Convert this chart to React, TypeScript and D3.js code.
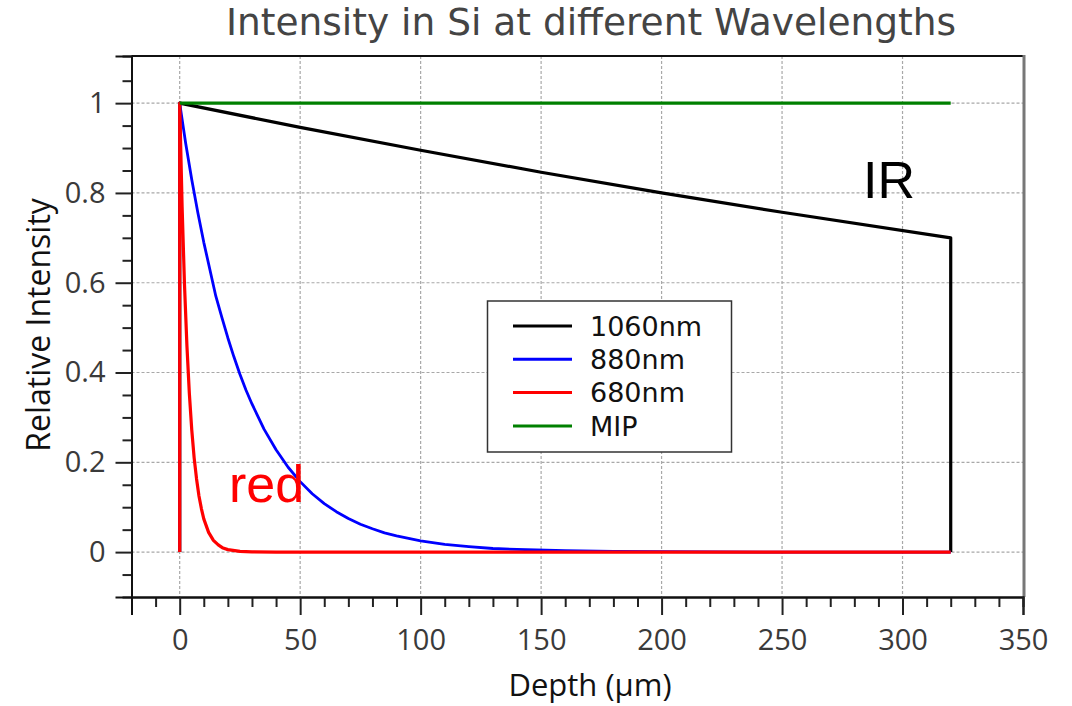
import React, { useEffect, useRef } from "react";
import * as d3 from "d3";

// depth in µm, relative intensity
const depth1060 = [0, 0, 50, 100, 150, 200, 250, 320, 320];
const intensity1060 = [0, 1, 0.946, 0.895, 0.846, 0.8, 0.757, 0.7, 0];

const depth880 = [0, 0, 2.5, 5, 7.5, 10, 12.5, 15, 17.5, 20, 22.5, 25, 27.5, 30, 35, 40, 45, 50, 55, 60, 65, 70, 75, 80, 85, 90, 100, 110, 120, 130, 140, 160, 180, 200, 250, 320];
const intensity880 = [0, 1, 0.91, 0.83, 0.757, 0.69, 0.63, 0.57, 0.523, 0.477, 0.435, 0.396, 0.361, 0.33, 0.274, 0.228, 0.189, 0.157, 0.13, 0.108, 0.09, 0.075, 0.062, 0.052, 0.043, 0.036, 0.025, 0.017, 0.012, 0.008, 0.006, 0.003, 0.0013, 0.001, 0, 0];

const depth680 = [0, 0, 1, 2, 3, 4, 5, 6, 7, 8, 9, 10, 12, 14, 16, 18, 20, 25, 30, 40, 320];
const intensity680 = [0, 1, 0.77, 0.595, 0.46, 0.354, 0.273, 0.21, 0.163, 0.125, 0.097, 0.074, 0.044, 0.026, 0.016, 0.009, 0.0055, 0.0015, 0.0004, 0, 0];

const depthMIP = [0, 320];
const intensityMIP = [1, 1];

const seriesNames = ["1060nm", "880nm", "680nm", "MIP"];
const seriesColors = ["#000000", "#0000ff", "#ff0000", "#008000"];

const xTicks = [0, 50, 100, 150, 200, 250, 300, 350];
const yTicks = [0, 0.2, 0.4, 0.6, 0.8, 1];

const App = () => {
  const ref = useRef<SVGSVGElement>(null);

  useEffect(() => {
    const svg = d3.select(ref.current);
    svg.selectAll("*").remove();

    const left = 131.5, right = 1024, top = 56, bottom = 597;
    const x = d3.scaleLinear().domain([-20, 350]).range([left, 1023]);
    const y = d3.scaleLinear().domain([-0.1, 1.105]).range([bottom, top]);

    const tickFont = "'Open Sans', sans-serif";
    const textColor = "#3a3a3a";

    // grid
    const grid = svg.append("g");
    grid.selectAll("line.gx")
      .data(xTicks.filter((t) => t < 350))
      .enter()
      .append("line")
      .attr("x1", (d) => x(d)).attr("x2", (d) => x(d))
      .attr("y1", top).attr("y2", bottom)
      .attr("stroke", "#a8a8a8").attr("stroke-width", 1.2)
      .attr("stroke-dasharray", "3,2");
    grid.selectAll("line.gy")
      .data(yTicks)
      .enter()
      .append("line")
      .attr("x1", left).attr("x2", right)
      .attr("y1", (d) => y(d)).attr("y2", (d) => y(d))
      .attr("stroke", "#a8a8a8").attr("stroke-width", 1.2)
      .attr("stroke-dasharray", "3,2");

    // frame top / right
    svg.append("line")
      .attr("x1", left).attr("x2", right).attr("y1", top).attr("y2", top)
      .attr("stroke", "#111").attr("stroke-width", 2);
    svg.append("line")
      .attr("x1", right).attr("x2", right).attr("y1", top - 1).attr("y2", bottom)
      .attr("stroke", "#777").attr("stroke-width", 3);

    // x axis
    const xMinor = d3.range(-20, 351, 10).filter((t) => t % 50 !== 0);
    const xAxis = svg.append("g").attr("transform", `translate(0,${bottom})`);
    xAxis.call(
      d3.axisBottom(x).tickValues(xMinor).tickSize(10).tickFormat(() => "")
    );
    xAxis.call((g) =>
      g.append("g").call(d3.axisBottom(x).tickValues(xTicks).tickSize(18).tickPadding(14).tickFormat(d3.format("d")))
    );
    xAxis.selectAll(".domain").attr("stroke", "#111").attr("stroke-width", 2);
    xAxis.selectAll(".tick line").attr("stroke", "#222").attr("stroke-width", 2);
    xAxis.selectAll(".tick text")
      .attr("font-family", tickFont).attr("font-size", 29)
      .attr("fill", textColor);

    // y axis
    const yMinor = d3.range(-0.05, 1.1, 0.05).filter((t) => Math.abs(Math.round(t * 5) - t * 5) > 0.01);
    const yAxis = svg.append("g").attr("transform", `translate(${left},0)`);
    yAxis.call(
      d3.axisLeft(y).tickValues(yMinor).tickSize(9).tickFormat(() => "")
    );
    yAxis.call((g) =>
      g.append("g").call(d3.axisLeft(y).tickValues(yTicks).tickSize(16).tickPadding(10).tickFormat((d) => String(d)))
    );
    yAxis.selectAll(".domain").attr("stroke", "#111").attr("stroke-width", 2);
    yAxis.selectAll(".tick line").attr("stroke", "#222").attr("stroke-width", 2);
    yAxis.selectAll(".tick text")
      .attr("font-family", tickFont).attr("font-size", 29)
      .attr("fill", textColor);

    // series
    const series = [
      { xs: depth1060, ys: intensity1060 },
      { xs: depth880, ys: intensity880 },
      { xs: depth680, ys: intensity680 },
      { xs: depthMIP, ys: intensityMIP },
    ];
    const line = d3.line<[number, number]>()
      .x((d) => x(d[0]))
      .y((d) => y(d[1]));
    series.forEach((s, i) => {
      const pts = s.xs.map((v, j) => [v, s.ys[j]] as [number, number]);
      svg.append("path")
        .attr("d", line(pts))
        .attr("fill", "none")
        .attr("stroke", seriesColors[i])
        .attr("stroke-width", i === 1 ? 2.8 : 3.2)
        .attr("stroke-linejoin", "round");
    });

    // legend
    const lg = svg.append("g");
    lg.append("rect")
      .attr("x", 487.5).attr("y", 301).attr("width", 244).attr("height", 151)
      .attr("fill", "#fff").attr("stroke", "#333").attr("stroke-width", 1.5);
    seriesNames.forEach((name, i) => {
      const ly = 326 + i * 33.3;
      lg.append("line")
        .attr("x1", 513).attr("x2", 572).attr("y1", ly).attr("y2", ly)
        .attr("stroke", seriesColors[i]).attr("stroke-width", 3);
      lg.append("text")
        .attr("x", 590).attr("y", ly)
        .attr("dy", "0.36em")
        .attr("font-family", "'DejaVu Sans', sans-serif")
        .attr("font-size", 27)
        .attr("fill", "#111")
        .text(name);
    });

    // annotations
    svg.append("text")
      .attr("x", 863).attr("y", 198)
      .attr("font-family", "'Liberation Sans', Arial, sans-serif")
      .attr("font-size", 52).attr("fill", "#000")
      .text("IR");
    svg.append("text")
      .attr("x", 229).attr("y", 502)
      .attr("font-family", "'Liberation Sans', Arial, sans-serif")
      .attr("font-size", 52).attr("fill", "#ff0000")
      .text("red");

    // titles
    svg.append("text")
      .attr("x", 591).attr("y", 35)
      .attr("text-anchor", "middle")
      .attr("font-family", "'DejaVu Sans', sans-serif")
      .attr("font-size", 37.5).attr("fill", "#444")
      .text("Intensity in Si at different Wavelengths");
    svg.append("text")
      .attr("x", 590).attr("y", 696)
      .attr("text-anchor", "middle")
      .attr("font-family", tickFont)
      .attr("font-size", 31).attr("fill", "#111")
      .text("Depth (µm)");
    svg.append("text")
      .attr("transform", "translate(50,325) rotate(-90)")
      .attr("text-anchor", "middle")
      .attr("font-family", tickFont)
      .attr("font-size", 32).attr("fill", "#111")
      .text("Relative Intensity");
  }, []);

  return (
    <svg
      ref={ref}
      width={1072}
      height={706}
      style={{ position: "absolute", left: 0, top: 0, background: "#fff" }}
    />
  );
};

export default App;
